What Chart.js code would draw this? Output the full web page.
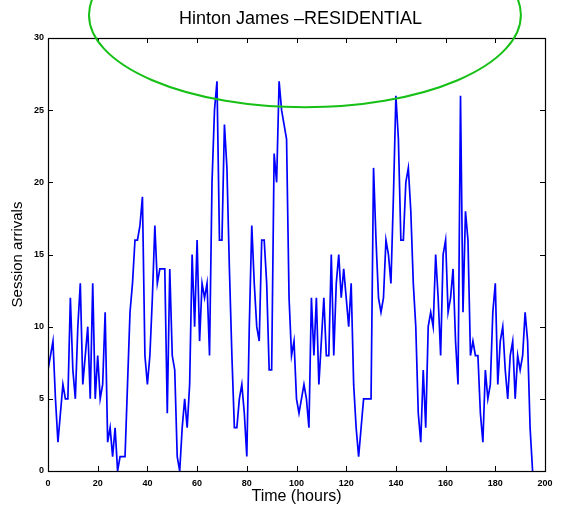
<!DOCTYPE html>
<html lang="en">
<head>
<meta charset="UTF-8" />
<title>Hinton James - RESIDENTIAL</title>
<script src="https://cdn.jsdelivr.net/npm/chart.js"></script>
<style>
  body { margin: 0; background: #fff; }
  #wrap { width: 563px; height: 509px; }
</style>
</head>
<body>
<div id="wrap"><canvas id="arrivalsChart" width="563" height="509"></canvas></div>
<script>
// session arrivals per hour
const arrivals = [
  7, 8, 9, 5, 2, 4, 6, 5, 5, 12,
  7, 5, 10, 13, 6, 8, 10, 5, 13, 5,
  8, 5, 6, 11, 2, 3, 1, 3, 0, 1,
  1, 1, 6, 11, 13, 16, 16, 17, 19, 8,
  6, 8, 12, 17, 13, 14, 14, 14, 4, 14,
  8, 7, 1, 0, 3, 5, 3, 6, 15, 10,
  16, 9, 13, 12, 13, 8, 20, 25, 27, 16,
  16, 24, 21, 14, 8, 3, 3, 5, 6, 4,
  1, 10, 17, 13, 10, 9, 16, 16, 13, 7,
  7, 22, 20, 27, 25, 24, 23, 12, 8, 9,
  5, 4, 5, 6, 5, 3, 12, 8, 12, 6,
  9, 12, 8, 8, 15, 8, 13, 15, 12, 14,
  12, 10, 13, 6, 3, 1, 3, 5, 5, 5,
  5, 21, 16, 12, 11, 12, 16, 15, 13, 19,
  26, 23, 16, 16, 20, 21, 18, 13, 10, 4,
  2, 7, 3, 10, 11, 10, 15, 12, 8, 15,
  16, 11, 12, 14, 9, 6, 26, 11, 18, 16,
  8, 9, 8, 8, 4, 2, 7, 5, 6, 11,
  13, 6, 9, 10, 7, 5, 8, 9, 5, 8,
  7, 8, 11, 9, 3, 0
];
// one sample per hour
const hours = arrivals.map((_, i) => i);

const xTicks = [0, 20, 40, 60, 80, 100, 120, 140, 160, 180, 200];
const yTicks = [0, 5, 10, 15, 20, 25, 30];

const chartTitle = 'Hinton James \u2013RESIDENTIAL';

// highlight ring around the title and the tallest peaks (data units)
const ringCenter = { x: 103.4, y: 31.6 };
const ringRadius = { x: 86.9, y: 6.4 };

const fontFamily = "'Liberation Sans', Arial, sans-serif";
const tickFont = { family: fontFamily, size: 9, weight: 'bold' };

// boxed axes with inward ticks on all four sides, title over the plot box
const boxAxes = {
  id: 'boxAxes',
  afterDatasetsDraw(chart) {
    const { ctx, chartArea: a, scales } = chart;
    const len = 5;
    ctx.save();
    ctx.strokeStyle = '#000';
    ctx.lineWidth = 1;
    ctx.beginPath();
    xTicks.forEach(v => {
      const px = Math.round(scales.x.getPixelForValue(v)) + 0.5;
      ctx.moveTo(px, a.bottom); ctx.lineTo(px, a.bottom - len);
      ctx.moveTo(px, a.top); ctx.lineTo(px, a.top + len);
    });
    yTicks.forEach(v => {
      const py = Math.round(scales.y.getPixelForValue(v)) + 0.5;
      ctx.moveTo(a.left, py); ctx.lineTo(a.left + len, py);
      ctx.moveTo(a.right, py); ctx.lineTo(a.right - len, py);
    });
    ctx.stroke();
    ctx.lineWidth = 1.2;
    ctx.strokeRect(Math.round(a.left) + 0.5, Math.round(a.top) + 0.5,
      Math.round(a.right - a.left), Math.round(a.bottom - a.top));

    ctx.fillStyle = '#000';
    ctx.font = `18px ${fontFamily}`;
    ctx.textAlign = 'center';
    ctx.textBaseline = 'middle';
    ctx.fillText(chartTitle, (a.left + a.right) / 2 + 4, 19);
    ctx.restore();
  },
  afterDraw(chart) {
    const { ctx, scales } = chart;
    const cx = scales.x.getPixelForValue(ringCenter.x);
    const cy = scales.y.getPixelForValue(ringCenter.y);
    const rx = scales.x.getPixelForValue(ringCenter.x + ringRadius.x) - cx;
    const ry = cy - scales.y.getPixelForValue(ringCenter.y + ringRadius.y);
    ctx.save();
    ctx.strokeStyle = '#16c016';
    ctx.lineWidth = 2;
    ctx.beginPath();
    ctx.ellipse(cx, cy, rx, ry, 0, 0, Math.PI * 2);
    ctx.stroke();
    ctx.restore();
  }
};

new Chart(document.getElementById('arrivalsChart'), {
  type: 'line',
  data: {
    datasets: [{
      label: 'Session arrivals',
      data: hours.map((h, i) => ({ x: h, y: arrivals[i] })),
      borderColor: '#0000ff',
      borderWidth: 1.7,
      pointRadius: 0,
      tension: 0,
      fill: false
    }]
  },
  options: {
    responsive: false,
    animation: false,
    layout: { padding: { left: 0, right: 18, top: 38, bottom: 0 } },
    plugins: {
      legend: { display: false },
      tooltip: { enabled: false },
      title: { display: false }
    },
    scales: {
      x: {
        type: 'linear',
        min: 0,
        max: 200,
        afterBuildTicks: s => { s.ticks = xTicks.map(v => ({ value: v })); },
        afterFit: s => { s.height = 38; },
        grid: { display: false, drawTicks: false, tickLength: 0 },
        border: { display: false },
        ticks: { color: '#000', font: tickFont, padding: 7, maxRotation: 0 },
        title: {
          display: true,
          text: 'Time (hours)',
          color: '#000',
          font: { family: fontFamily, size: 16 },
          padding: { top: 0, bottom: 3 }
        }
      },
      y: {
        min: 0,
        max: 30,
        afterBuildTicks: s => { s.ticks = yTicks.map(v => ({ value: v })); },
        afterFit: s => { s.width = 48; },
        grid: { display: false, drawTicks: false, tickLength: 0 },
        border: { display: false },
        ticks: { color: '#000', font: tickFont, padding: 4 },
        title: {
          display: true,
          text: 'Session arrivals',
          color: '#000',
          font: { family: fontFamily, size: 15 },
          padding: { top: 9, bottom: 0 }
        }
      }
    }
  },
  plugins: [boxAxes]
});
</script>
</body>
</html>
